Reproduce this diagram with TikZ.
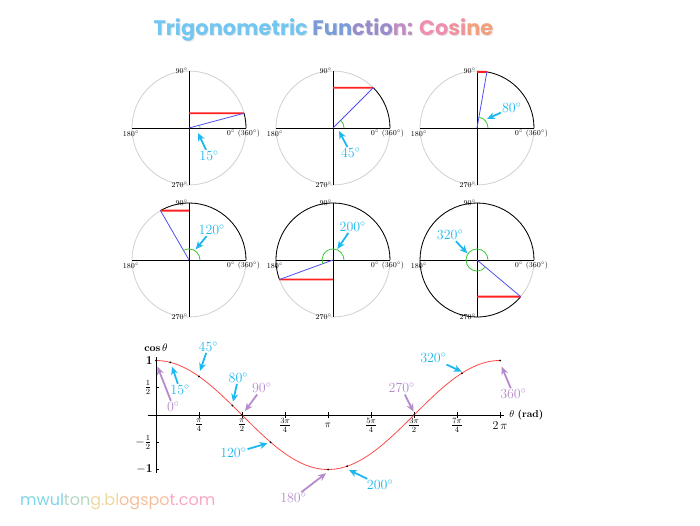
\documentclass[tikz,border=0pt]{standalone}
\usepackage{fontspec}
\newfontfamily\titlefont{Poppins}
\usetikzlibrary{arrows.meta}

% Colours
\definecolor{skycyan}{HTML}{1DB8F0}
\definecolor{lilac}{HTML}{B48CCB}
\definecolor{ringgray}{HTML}{D0D0D0}
\definecolor{cosred}{HTML}{FF2020}
\definecolor{radblue}{HTML}{5050F5}
\definecolor{arcgreen}{HTML}{3CC83C}
\definecolor{curvered}{HTML}{FF4A4A}
\definecolor{tA}{HTML}{72C6F0}
\definecolor{fA}{HTML}{7A9CD8}
\definecolor{fB}{HTML}{9A8CCC}
\definecolor{fC}{HTML}{C28CC4}
\definecolor{cA}{HTML}{EE8FAE}
\definecolor{cB}{HTML}{F0929E}
\definecolor{cC}{HTML}{F3A080}
\definecolor{wA}{HTML}{7DD6EA}
\definecolor{wB}{HTML}{B4D8C4}
\definecolor{wC}{HTML}{EED8A0}
\definecolor{wD}{HTML}{F6C09C}
\definecolor{wE}{HTML}{F8A8C4}

\tikzset{
  ringback/.style={draw=ringgray, line width=0.8pt},
  ringfront/.style={draw=black, line width=0.8pt},
  axisline/.style={draw=black, line width=0.9pt},
  cosline/.style={draw=cosred, line width=1.8pt},
  radline/.style={draw=radblue, line width=0.8pt},
  anglemark/.style={draw=arcgreen, line width=0.8pt},
  degtick/.style={inner sep=0pt, font=\fontsize{7.5}{7.5}\selectfont},
  skylabel/.style={inner sep=1pt, text=skycyan, font=\fontsize{14}{14}\selectfont},
  lilaclabel/.style={inner sep=1pt, text=lilac, font=\fontsize{14}{14}\selectfont},
  skyarrow/.style={draw=skycyan, line width=1.8pt, -{Stealth[length=8pt,width=7pt]}},
  lilacarrow/.style={draw=lilac, line width=1.8pt, -{Stealth[length=8pt,width=7pt]}},
  graphaxis/.style={draw=black, line width=0.8pt},
  ticklabel/.style={inner sep=0pt, font=\fontsize{12}{12}\selectfont},
  curveline/.style={draw=curvered, line width=0.8pt}
}

\begin{document}
\begin{tikzpicture}[x=1pt, y=1pt]
\useasboundingbox (0,0) rectangle (700,525);
% Title
\node[anchor=base, text=black!10, font=\titlefont\bfseries\fontsize{21}{21}\selectfont] (titleshadow) at (324.5,488) {Trigonometric Function: Cosine};
\node[anchor=base, font=\titlefont\bfseries\fontsize{21}{21}\selectfont] (title) at (323.5,489.5) {{\color{tA}Trigonometric} {\color{fA}Fun}{\color{fB}ctio}{\color{fC}n:} {\color{cA}Co}{\color{cB}si}{\color{cC}ne}};
% Unit circles
\foreach \cx/\cy/\ang/\sy in {189/397/15/14.75, 333/397/45/40.31, 477/397/80/56.13, 189/265/120/49.36, 333/265/200/-19.49, 477/265/320/-36.64}{
  \begin{scope}[shift={(\cx,\cy)}]
    \draw[ringback] (0,0) circle (57);
    \draw[ringfront] (57,0) arc (0:\ang:57);
    \draw[axisline] (-57,0) -- (57,0);
    \draw[axisline] (0,-57) -- (0,57);
    \coordinate (tip\ang) at (\ang:57);
    \coordinate (foot\ang) at (0,\sy);
    \draw[cosline] (foot\ang) -- (tip\ang);
    \draw[radline] (0,0) -- (tip\ang);
    \draw[anglemark] (11,0) arc (0:\ang:11);
    \node[degtick, anchor=east] (top\ang) at (-1,57) {90$^\circ$};
    \node[degtick, anchor=east] (bot\ang) at (-1,-57) {270$^\circ$};
    \node[degtick] (left\ang) at (-58,-6) {180$^\circ$};
    \node[degtick] (right\ang) at (54.5,-6) {0$^\circ$ (360$^\circ$)};
  \end{scope}
}
% Angle labels on circles
\node[skylabel] (c15) at (209,369) {15$^\circ$};
\coordinate (c15tip) at (198,392);
\draw[skyarrow] (c15) -- (c15tip);
\node[skylabel] (c45) at (350.7,371.7) {45$^\circ$};
\coordinate (c45tip) at (339,394);
\draw[skyarrow] (c45) -- (c45tip);
\node[skylabel] (c80) at (511.7,417.3) {80$^\circ$};
\coordinate (c80tip) at (487,406);
\draw[skyarrow] (c80) -- (c80tip);
\node[skylabel] (c120) at (211.7,295) {120$^\circ$};
\coordinate (c120tip) at (195.7,275.7);
\draw[skyarrow] (c120) -- (c120tip);
\node[skylabel] (c200) at (352.7,298.3) {200$^\circ$};
\coordinate (c200tip) at (337.3,276);
\draw[skyarrow] (c200) -- (c200tip);
\node[skylabel] (c320) at (450,290) {320$^\circ$};
\coordinate (c320tip) at (467.3,271.7);
\draw[skyarrow] (c320) -- (c320tip);
% Graph of cosine
\begin{scope}[shift={(156,110)}, x=54.75pt, y=54.5pt]
  \draw[graphaxis] (-0.15,0) -- (6.36,0);
  \draw[graphaxis] (0,-1.06) -- (0,1.06);
  \foreach \k in {1,...,8} \draw[graphaxis] ({\k*pi/4},0.05) -- ({\k*pi/4},-0.05);
  \foreach \v in {-1,-0.5,0.5,1} \draw[graphaxis] (0,\v) -- (0.05,\v);
  % Tick labels
  \node[ticklabel] (xa) at ({pi/4},-0.19) {$\frac{\pi}{4}$};
  \node[ticklabel] (xb) at ({pi/2},-0.19) {$\frac{\pi}{2}$};
  \node[ticklabel] (xc) at ({3*pi/4},-0.19) {$\frac{3\pi}{4}$};
  \node[ticklabel, font=\fontsize{10}{10}\selectfont] (xd) at ({pi},-0.19) {$\pi$};
  \node[ticklabel] (xe) at ({5*pi/4},-0.19) {$\frac{5\pi}{4}$};
  \node[ticklabel] (xf) at ({3*pi/2},-0.19) {$\frac{3\pi}{2}$};
  \node[ticklabel] (xg) at ({7*pi/4},-0.19) {$\frac{7\pi}{4}$};
  \node[ticklabel] (xh) at ({2*pi},-0.19) {2\,$\pi$};
  \node[ticklabel, anchor=east] (ya) at (-0.06,1) {\textbf{1}};
  \node[ticklabel, anchor=east] (yb) at (-0.08,0.5) {$\frac{1}{2}$};
  \node[ticklabel, anchor=east] (yc) at (-0.08,-0.5) {$-\frac{1}{2}$};
  \node[ticklabel, anchor=east] (yd) at (-0.06,-1) {$-$\textbf{1}};
  \node[ticklabel, font=\fontsize{10.5}{10.5}\selectfont] (ylab) at (0,1.23) {\textbf{cos}\,$\theta$};
  \node[ticklabel, anchor=west, font=\fontsize{10}{10}\selectfont] (xlab) at (6.45,0) {$\theta$ \textbf{(rad)}};
  % Curve and points
  \draw[curveline] plot[domain=0:6.2832, samples=120] (\x,{cos(\x r)});
  \foreach \a in {0,15,45,80,90,120,180,200,270,320,360}
    \fill[black] ({\a*pi/180},{cos(\a)}) circle (1pt);
\end{scope}
% Angle labels on the graph
\node[lilaclabel] (g0) at (173.3,118) {0$^\circ$};
\coordinate (g0tip) at (157.5,158.3);
\draw[lilacarrow] (g0) -- (g0tip);
\node[skylabel] (g15) at (180,135) {15$^\circ$};
\coordinate (g15tip) at (172,158.3);
\draw[skyarrow] (g15) -- (g15tip);
\node[skylabel] (g45) at (208.3,178.3) {45$^\circ$};
\coordinate (g45tip) at (200,154);
\draw[skyarrow] (g45) -- (g45tip);
\node[skylabel] (g80) at (238.3,147.3) {80$^\circ$};
\coordinate (g80tip) at (233,123.3);
\draw[skyarrow] (g80) -- (g80tip);
\node[lilaclabel] (g90) at (261.7,136.7) {90$^\circ$};
\coordinate (g90tip) at (245,114);
\draw[lilacarrow] (g90) -- (g90tip);
\node[skylabel] (g120) at (233.3,71.7) {120$^\circ$};
\coordinate (g120tip) at (267.5,81.7);
\draw[skyarrow] (g120) -- (g120tip);
\node[lilaclabel] (g180) at (293.3,26.7) {180$^\circ$};
\coordinate (g180tip) at (326,51.7);
\draw[lilacarrow] (g180) -- (g180tip);
\node[skylabel] (g200) at (380,40) {200$^\circ$};
\coordinate (g200tip) at (349,55);
\draw[skyarrow] (g200) -- (g200tip);
\node[lilaclabel] (g270) at (401.7,136.7) {270$^\circ$};
\coordinate (g270tip) at (413.5,113.3);
\draw[lilacarrow] (g270) -- (g270tip);
\node[skylabel] (g320) at (433.3,166.7) {320$^\circ$};
\coordinate (g320tip) at (461.7,153.3);
\draw[skyarrow] (g320) -- (g320tip);
\node[lilaclabel] (g360) at (513.3,130.7) {360$^\circ$};
\coordinate (g360tip) at (501.7,158.3);
\draw[lilacarrow] (g360) -- (g360tip);
% Watermark
\node[anchor=base west, inner sep=0pt, font=\titlefont\fontsize{16}{16}\selectfont] (blog) at (20,20) {{\color{wA}mwul}{\color{wB}ton}{\color{wC}g.bl}{\color{wD}ogspo}{\color{wE}t.com}};
\end{tikzpicture}
\end{document}
